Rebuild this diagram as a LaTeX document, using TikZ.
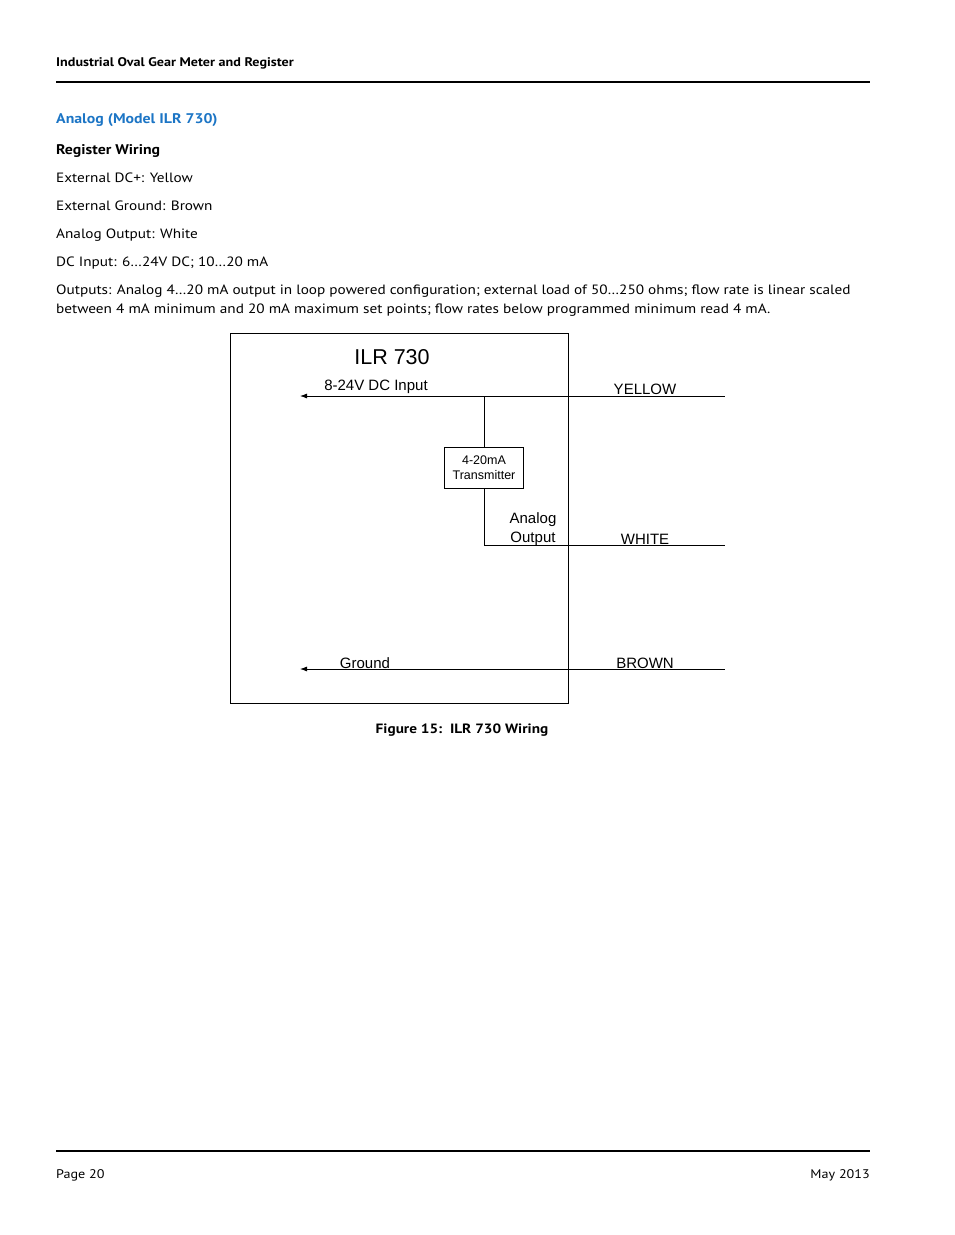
\documentclass[tikz,border=0pt]{standalone}
\usepackage{fontspec}
\setmainfont{PT Sans}[FakeStretch=1.13]
\newfontfamily\diagfont{Liberation Sans}
\usetikzlibrary{arrows.meta,positioning}
\definecolor{headblue}{RGB}{28,117,197}
\tikzset{
    body/.style={anchor=base west, inner sep=0pt, font=\fontsize{13.5}{16}\selectfont},
    wire/.style={line width=0.8pt},
    wirelabel/.style={inner sep=0pt, font=\diagfont\fontsize{15}{15}\selectfont},
    rule/.style={line width=1.3pt}
}
\begin{document}
\begin{tikzpicture}[x=1pt,y=-1pt]
    \useasboundingbox (0,0) rectangle (954,1235);
    % header and text
    \node[body, font=\bfseries\fontsize{12.5}{15}\selectfont] (hdr) at (56,66) {Industrial Oval Gear Meter and Register};
    \draw[rule] (56,82) -- (870,82);
    \node[body, font=\bfseries\fontsize{14}{16}\selectfont, text=headblue] (sec) at (56,123) {Analog (Model ILR 730)};
    \node[body, font=\bfseries\fontsize{14}{16}\selectfont] (sub) at (56,154) {Register Wiring};
    \node[body] (t1) at (56,182) {External DC+: Yellow};
    \node[body] (t2) at (56,210) {External Ground: Brown};
    \node[body] (t3) at (56,238) {Analog Output: White};
    \node[body] (t4) at (56,266) {DC Input: 6\ldots24V DC; 10\ldots20 mA};
    \node[body] (t5) at (56,294) {Outputs: Analog 4\ldots20 mA output in loop powered configuration; external load of 50\ldots250 ohms; flow rate is linear scaled};
    \node[body] (t6) at (56,313) {between 4 mA minimum and 20 mA maximum set points; flow rates below programmed minimum read 4 mA.};
    % diagram
    \draw[wire] (230,333) rectangle (568,703);
    \node[wirelabel, font=\diagfont\fontsize{21.5}{24}\selectfont] (title) at (392,357) {ILR 730};
    \coordinate (inL) at (300,396);
    \coordinate (inR) at (725,396);
    \coordinate (tap) at (484,396);
    \draw[wire, {Latex[length=7pt,width=5pt]}-] (inL) -- (inR);
    \node[wirelabel] (dcin) at (376,387) {8-24V DC Input};
    \node[wirelabel] (yellow) at (645,389) {YELLOW};
    \node[draw, line width=0.8pt, minimum width=79pt, minimum height=41pt, inner sep=0pt,
          align=center, font=\diagfont\fontsize{12.5}{15}\selectfont] (tx) at (484,467.5) {4-20mA\\Transmitter};
    \draw[wire] (tap) -- (tx.north);
    \coordinate (aoJ) at (484,545);
    \coordinate (aoR) at (725,545);
    \draw[wire] (tx.south) -- (aoJ) -- (aoR);
    \node[wirelabel, align=center, font=\diagfont\fontsize{15}{18.5}\selectfont] (aout) at (533,529) {Analog\\Output};
    \node[wirelabel] (white) at (645,539) {WHITE};
    \coordinate (gL) at (300,669);
    \coordinate (gR) at (725,669);
    \draw[wire, {Latex[length=7pt,width=5pt]}-] (gL) -- (gR);
    \node[wirelabel] (gnd) at (365,663) {Ground};
    \node[wirelabel] (brown) at (645,663) {BROWN};
    \node[inner sep=0pt, font=\bfseries\fontsize{13.5}{16}\selectfont] (cap) at (462,730) {Figure 15:\ \ ILR 730 Wiring};
    % footer
    \draw[rule] (56,1151) -- (870,1151);
    \node[body, font=\fontsize{12.5}{15}\selectfont] (pg) at (56,1178) {Page 20};
    \node[body, anchor=base east, font=\fontsize{12.5}{15}\selectfont] (date) at (870,1178) {May 2013};
\end{tikzpicture}
\end{document}
